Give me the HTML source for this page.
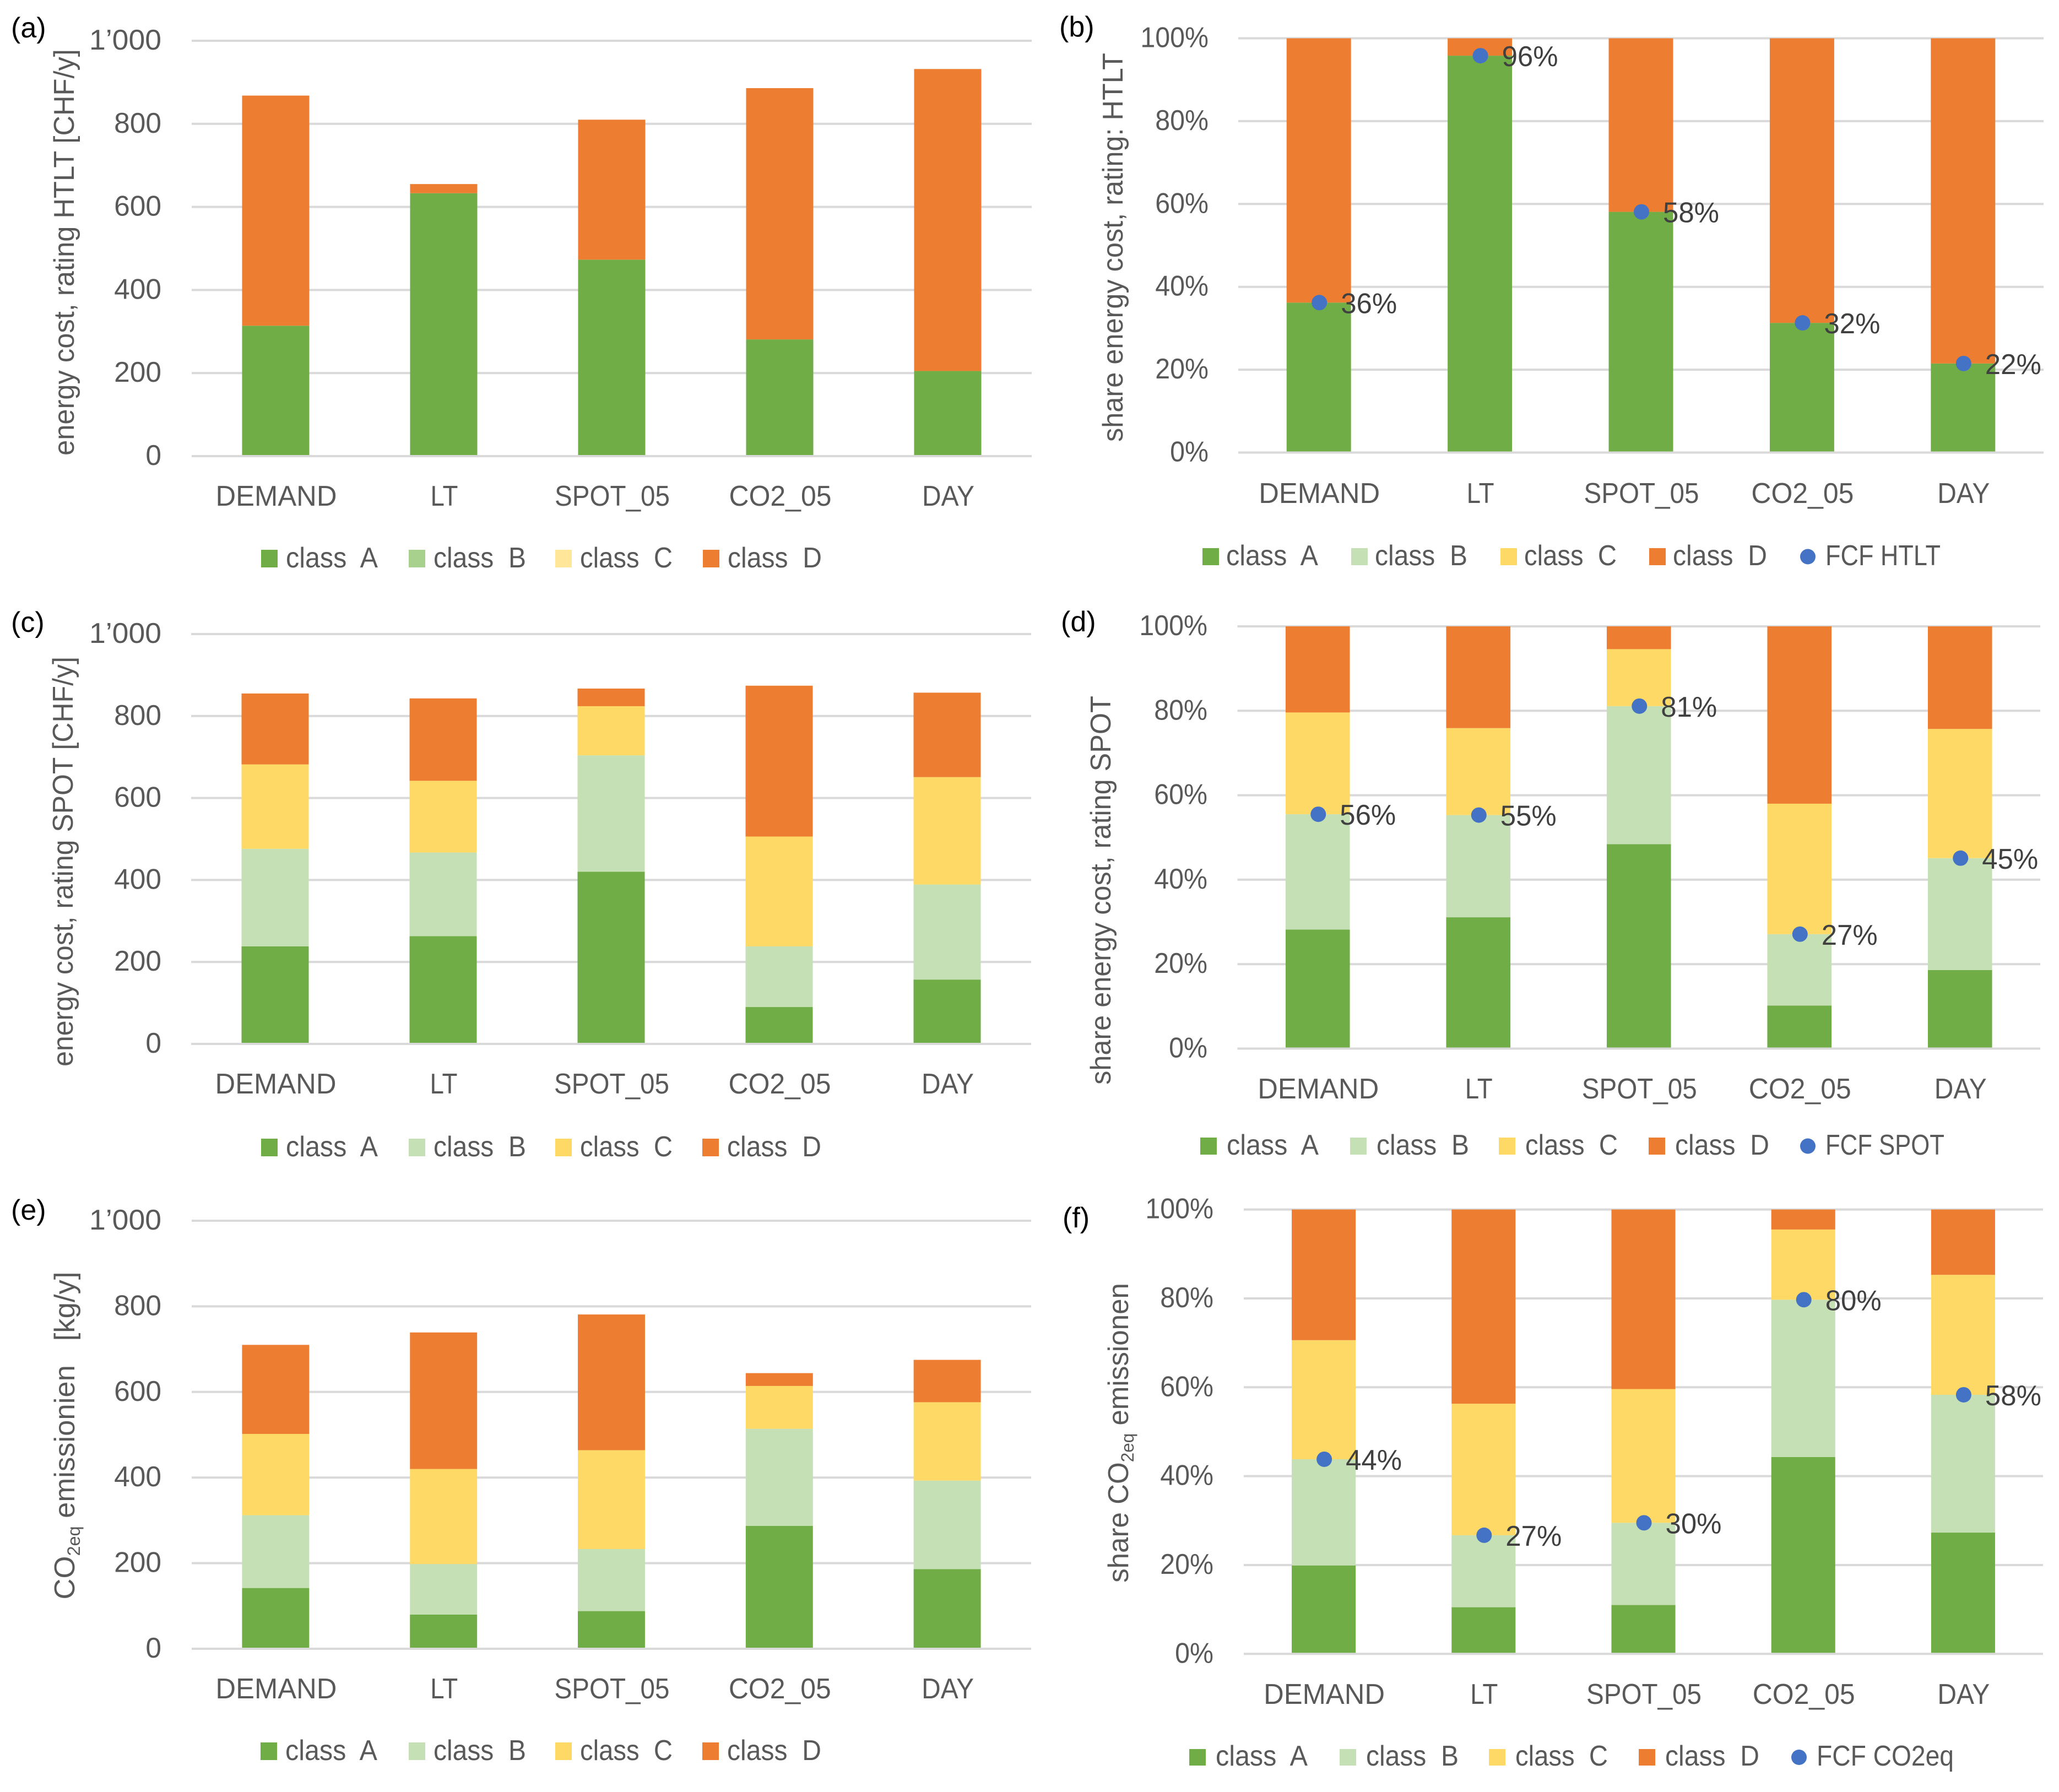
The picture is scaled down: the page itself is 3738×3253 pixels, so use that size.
<!DOCTYPE html>
<html lang="en">
<head>
<meta charset="utf-8">
<title>Energy cost and CO2 emissions by control strategy</title>
<style>
  html, body { margin: 0; padding: 0; background: #fff; }
  svg { display: block; }
  text { font-family: "Liberation Sans", sans-serif; white-space: pre; }
</style>
</head>
<body>
<svg id="figure" xmlns="http://www.w3.org/2000/svg" width="3738" height="3253" viewBox="0 0 3738 3253">
  <rect x="0" y="0" width="3738" height="3253" fill="#ffffff"></rect>
</svg>
<script>
// ---------- shared categories and ticks ----------
const categories = ['DEMAND', 'LT', 'SPOT_05', 'CO2_05', 'DAY'];
const absTickValues = [0, 200, 400, 600, 800, 1000];
const absTickLabels = ['0', '200', '400', '600', '800', '1’000'];
const pctTickValues = [0, 20, 40, 60, 80, 100];
const pctTickLabels = ['0%', '20%', '40%', '60%', '80%', '100%'];

// ---------- (a) energy cost, rating HTLT ----------
const aClassA = [314, 633, 473, 281, 205];
const aClassB = [0, 0, 0, 0, 0];
const aClassC = [0, 0, 0, 0, 0];
const aClassD = [554, 22, 337, 605, 727];

// ---------- (b) share energy cost, rating HTLT ----------
const bClassA = [36.2, 95.8, 58.1, 31.3, 21.5];
const bClassB = [0, 0, 0, 0, 0];
const bClassC = [0, 0, 0, 0, 0];
const bClassD = [63.8, 4.2, 41.9, 68.7, 78.5];
const bFcf = [36.2, 95.8, 58.1, 31.3, 21.5];
const bFcfLabels = ['36%', '96%', '58%', '32%', '22%'];

// ---------- (c) energy cost, rating SPOT ----------
const cClassA = [238, 263, 420, 90, 157];
const cClassB = [238, 204, 284, 148, 232];
const cClassC = [206, 175, 120, 268, 262];
const cClassD = [173, 201, 43, 368, 206];

// ---------- (d) share energy cost, rating SPOT ----------
const dClassA = [28.2, 31.1, 48.4, 10.2, 18.6];
const dClassB = [27.3, 24.2, 32.7, 16.9, 26.5];
const dClassC = [24.1, 20.6, 13.5, 30.9, 30.6];
const dClassD = [20.4, 24.1, 5.4, 42.0, 24.3];
const dFcf = [55.5, 55.3, 81.1, 27.1, 45.1];
const dFcfLabels = ['56%', '55%', '81%', '27%', '45%'];

// ---------- (e) CO2eq emissions ----------
const eClassA = [142, 80, 88, 287, 186];
const eClassB = [170, 118, 145, 227, 207];
const eClassC = [190, 222, 231, 100, 183];
const eClassD = [208, 319, 317, 30, 99];

// ---------- (f) share CO2eq emissions ----------
const fClassA = [19.9, 10.5, 11.0, 44.3, 27.3];
const fClassB = [23.9, 16.2, 18.5, 35.4, 31.0];
const fClassC = [26.8, 29.6, 30.1, 15.8, 27.0];
const fClassD = [29.4, 43.7, 40.4, 4.5, 14.7];
const fFcf = [43.8, 26.7, 29.5, 79.7, 58.3];
const fFcfLabels = ['44%', '27%', '30%', '80%', '58%'];

// ---------- styling ----------
const NS = 'http://www.w3.org/2000/svg';
const FONT = 52;
const GREY = '#595959';
const DARK = '#404040';
const GRID = '#D9D9D9';
const BLUE = '#4472C4';
const barColors = ['#70AD47', '#C5E0B4', '#FFD966', '#ED7D31'];
const paleColors = ['#70AD47', '#A9D18E', '#FFE699', '#ED7D31'];
const seriesNames = ['class  A', 'class  B', 'class  C', 'class  D'];
const fitWidths = {
  'DEMAND': 220, 'LT': 50, 'SPOT_05': 209, 'CO2_05': 186, 'DAY': 95,
  'class  A': 167, 'class  B': 168, 'class  C': 168, 'class  D': 171,
  'FCF HTLT': 209, 'FCF SPOT': 216, 'FCF CO2eq': 249
};

const panels = [
  { id: 'a', tag: '(a)', tagX: 20, tagY: 68, left: 348, right: 1873, top: 74, bottom: 828,
    yMax: 1000, tickValues: absTickValues, tickLabels: absTickLabels, tickRight: 293,
    series: [aClassA, aClassB, aClassC, aClassD], colors: paleColors,
    catY: 918, legendX: [474, 742, 1008, 1276], legendTop: 998, legendH: 32, legendDx: 45,
    title: [{ t: 'energy cost, rating HTLT [CHF/y]' }], titleX: 134, titleY: 458, titleLen: 738 },
  { id: 'b', tag: '(b)', tagX: 1923, tagY: 66, left: 2248, right: 3710, top: 69.5, bottom: 821.5,
    yMax: 100, tickValues: pctTickValues, tickLabels: pctTickLabels, tickRight: 2194,
    series: [bClassA, bClassB, bClassC, bClassD], colors: barColors,
    fcf: bFcf, fcfLabels: bFcfLabels, fcfName: 'FCF HTLT', fcfLegendX: 3282, fcfTextX: 3314,
    catY: 913, legendX: [2183, 2453, 2724, 2994], legendTop: 995, legendH: 31, legendDx: 43,
    title: [{ t: 'share energy cost, rating: HTLT' }], titleX: 2038, titleY: 449, titleLen: 706 },
  { id: 'c', tag: '(c)', tagX: 20, tagY: 1147, left: 347, right: 1872, top: 1151, bottom: 1895,
    yMax: 1000, tickValues: absTickValues, tickLabels: absTickLabels, tickRight: 293,
    series: [cClassA, cClassB, cClassC, cClassD], colors: barColors,
    catY: 1985, legendX: [474, 742, 1008, 1275], legendTop: 2067, legendH: 32, legendDx: 45,
    title: [{ t: 'energy cost, rating SPOT [CHF/y]' }], titleX: 132, titleY: 1564, titleLen: 744 },
  { id: 'd', tag: '(d)', tagX: 1926, tagY: 1146, left: 2246.5, right: 3704, top: 1137, bottom: 1903.5,
    yMax: 100, tickValues: pctTickValues, tickLabels: pctTickLabels, tickRight: 2192,
    series: [dClassA, dClassB, dClassC, dClassD], colors: barColors,
    fcf: dFcf, fcfLabels: dFcfLabels, fcfName: 'FCF SPOT', fcfLegendX: 3282, fcfTextX: 3314,
    catY: 1994, legendX: [2179, 2451, 2721, 2993], legendTop: 2065, legendH: 31, legendDx: 48,
    title: [{ t: 'share energy cost, rating SPOT' }], titleX: 2016, titleY: 1616, titleLen: 706 },
  { id: 'e', tag: '(e)', tagX: 20, tagY: 2214, left: 348, right: 1872, top: 2216, bottom: 2993,
    yMax: 1000, tickValues: absTickValues, tickLabels: absTickLabels, tickRight: 293,
    series: [eClassA, eClassB, eClassC, eClassD], colors: barColors,
    catY: 3083, legendX: [473, 742, 1008, 1275], legendTop: 3163, legendH: 32, legendDx: 45,
    title: [{ t: 'CO' }, { t: '2eq', sub: true }, { t: ' emissionien   [kg/y]' }], titleX: 135, titleY: 2606, titleLen: 595 },
  { id: 'f', tag: '(f)', tagX: 1929, tagY: 2228, left: 2258, right: 3709, top: 2195.6, bottom: 3002.3,
    yMax: 100, tickValues: pctTickValues, tickLabels: pctTickLabels, tickRight: 2203,
    series: [fClassA, fClassB, fClassC, fClassD], colors: barColors,
    fcf: fFcf, fcfLabels: fFcfLabels, fcfName: 'FCF CO2eq', fcfLegendX: 3266, fcfTextX: 3298,
    catY: 3093, legendX: [2159, 2432, 2703, 2975], legendTop: 3175, legendH: 30, legendDx: 48,
    title: [{ t: 'share CO' }, { t: '2eq', sub: true }, { t: ' emissionen' }], titleX: 2048, titleY: 2601, titleLen: 544 }
];

function svgEl(tag, parent) {
  const el = document.createElementNS(NS, tag);
  parent.appendChild(el);
  return el;
}

function addText(parent, parts, x, y, opts) {
  const o = opts || {};
  const el = svgEl('text', parent);
  el.setAttribute('font-size', o.size || FONT);
  el.setAttribute('fill', o.fill || GREY);
  el.setAttribute('text-anchor', o.anchor || 'start');
  if (typeof parts === 'string') {
    el.textContent = parts;
  } else {
    parts.forEach(function (p, idx) {
      const span = svgEl('tspan', el);
      span.textContent = p.t;
      if (p.sub) {
        span.setAttribute('font-size', 32);
        span.setAttribute('dy', 10);
      } else if (idx > 0) {
        span.setAttribute('dy', -10);
      }
    });
  }
  const natural = el.getComputedTextLength();
  const k = o.width ? o.width / natural : (o.k || 1);
  const rot = o.rotate ? ' rotate(' + o.rotate + ')' : '';
  el.setAttribute('transform', 'translate(' + x + ' ' + y + ')' + rot + ' scale(' + k + ' 1)');
  return el;
}

function xScale(p, i) {
  return p.left + (i + 0.5) * (p.right - p.left) / categories.length;
}
function yScale(p, v) {
  return p.bottom - (v / p.yMax) * (p.bottom - p.top);
}

const root = document.getElementById('figure');

panels.forEach(function (p) {
  const g = svgEl('g', root);
  
  

  const tag = addText(g, p.tag, p.tagX, p.tagY, { fill: '#000000', size: 52 });
  
  

  // gridlines and tick labels
  p.tickValues.forEach(function (v, i) {
    const y = yScale(p, v);
    if (v !== 0) {
      const line = svgEl('line', g);
      
      
      line.setAttribute('x1', p.left);
      line.setAttribute('x2', p.right);
      line.setAttribute('y1', y);
      line.setAttribute('y2', y);
      line.setAttribute('stroke', GRID);
      line.setAttribute('stroke-width', 4);
    }
    const isPct = p.tickLabels[i].indexOf('%') >= 0;
    const isLong = p.tickLabels[i].length > 4;
    const tick = addText(g, p.tickLabels[i], p.tickRight, y + 16, { anchor: 'end', k: isPct ? 0.93 : (isLong ? 1.03 : 0.99) });
    
    
  });

  // stacked bars
  const slot = (p.right - p.left) / categories.length;
  const barW = slot * 0.4;
  categories.forEach(function (cat, i) {
    let sum = 0;
    p.series.forEach(function (values, s) {
      const val = values[i];
      if (val > 0) {
        const yTop = yScale(p, sum + val);
        const yBase = yScale(p, sum);
        const bar = svgEl('rect', g);
        
        
        bar.setAttribute('x', xScale(p, i) - barW / 2);
        bar.setAttribute('y', yTop);
        bar.setAttribute('width', barW);
        bar.setAttribute('height', yBase - yTop);
        bar.setAttribute('fill', p.colors[s]);
      }
      sum += val;
    });
    const label = addText(g, cat, xScale(p, i) + 1, p.catY, { anchor: 'middle', width: fitWidths[cat] });
    
    
  });

  // zero axis line sits on top of the bar feet
  const axis = svgEl('line', g);
  
  
  axis.setAttribute('x1', p.left);
  axis.setAttribute('x2', p.right);
  axis.setAttribute('y1', p.bottom);
  axis.setAttribute('y2', p.bottom);
  axis.setAttribute('stroke', GRID);
  axis.setAttribute('stroke-width', 4);

  // FCF markers and their value labels
  if (p.fcf) {
    p.fcf.forEach(function (v, i) {
      const cx = xScale(p, i) + 1;
      const cy = yScale(p, v);
      const dot = svgEl('circle', g);
      
      
      dot.setAttribute('cx', cx);
      dot.setAttribute('cy', cy);
      dot.setAttribute('r', 14);
      dot.setAttribute('fill', BLUE);
      const val = addText(g, p.fcfLabels[i], cx + 39, cy + 19, { fill: DARK, width: 102 });
      
      
    });
  }

  // y-axis title
  const title = addText(g, p.title, p.titleX, p.titleY, { anchor: 'middle', rotate: -90, width: p.titleLen });
  
  

  // legend
  p.legendX.forEach(function (lx, s) {
    const sw = svgEl('rect', g);
    
    
    sw.setAttribute('x', lx);
    sw.setAttribute('y', p.legendTop);
    sw.setAttribute('width', 30);
    sw.setAttribute('height', p.legendH);
    sw.setAttribute('fill', p.colors[s]);
    const entry = addText(g, seriesNames[s], lx + p.legendDx, p.legendTop + p.legendH, { width: fitWidths[seriesNames[s]] });
    
    
  });
  if (p.fcf) {
    const ld = svgEl('circle', g);
    
    
    ld.setAttribute('cx', p.fcfLegendX);
    ld.setAttribute('cy', p.legendTop + p.legendH / 2);
    ld.setAttribute('r', 14);
    ld.setAttribute('fill', BLUE);
    const lt = addText(g, p.fcfName, p.fcfTextX, p.legendTop + p.legendH, { width: fitWidths[p.fcfName] });
    
    
  }
});
</script>
</body>
</html>
